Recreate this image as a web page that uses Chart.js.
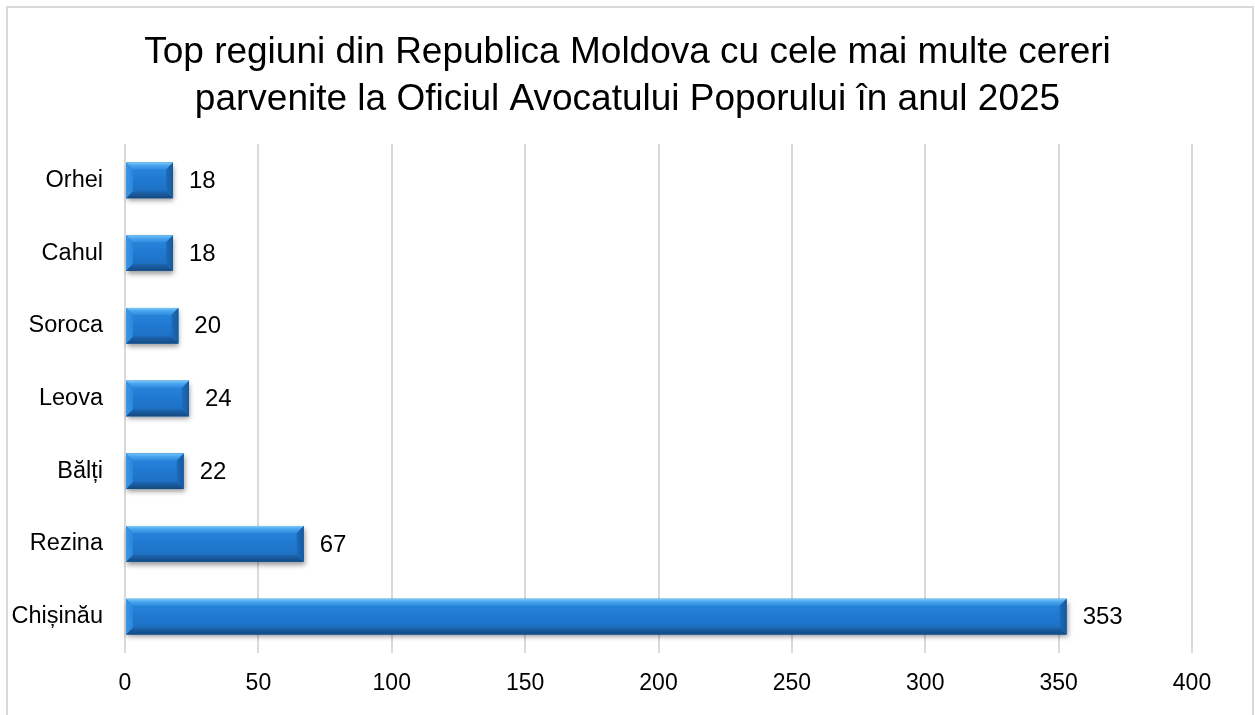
<!DOCTYPE html>
<html>
<head>
<meta charset="utf-8">
<script src="https://cdn.jsdelivr.net/npm/chart.js@4/dist/chart.umd.min.js"></script>
<style>
html,body{margin:0;padding:0;background:#fff;overflow:hidden;}
#wrap{position:relative;width:1255px;height:715px;}
#frame{position:absolute;left:6px;top:6px;width:1248px;height:760px;border:2px solid #d9d9d9;box-sizing:border-box;pointer-events:none;}
canvas{position:absolute;left:0;top:0;}
</style>
</head>
<body>
<div id="wrap">
<canvas id="c" width="1255" height="715"></canvas>
<div id="frame"></div>
</div>
<script>
const titleLines = ["Top regiuni din Republica Moldova cu cele mai multe cereri", "parvenite la Oficiul Avocatului Poporului în anul 2025"];
const categories = ["Orhei", "Cahul", "Soroca", "Leova", "Bălți", "Rezina", "Chișinău"];
const values = [18, 18, 20, 24, 22, 67, 353];
const xTicks = [0, 50, 100, 150, 200, 250, 300, 350, 400];

const FONT = "'Liberation Sans', Arial, sans-serif";

const bevelBars = {
  id: 'bevelBars',
  afterDatasetsDraw(chart) {
    const ctx = chart.ctx;
    const meta = chart.getDatasetMeta(0);
    meta.data.forEach((bar, i) => {
      const left = Math.min(bar.base, bar.x);
      const right = Math.max(bar.base, bar.x);
      const top = bar.y - bar.height / 2;
      const bottom = bar.y + bar.height / 2;
      const w = right - left, h = bottom - top;
      const b = Math.min(7, w / 2, h / 2);
      ctx.save();
      ctx.shadowColor = 'rgba(0,0,0,0.4)';
      ctx.shadowBlur = 5;
      ctx.shadowOffsetX = 1;
      ctx.shadowOffsetY = 3;
      ctx.fillStyle = '#1f6fc0';
      ctx.fillRect(left, top, w, h);
      ctx.restore();
      ctx.save();
      const g = ctx.createLinearGradient(0, top, 0, bottom);
      g.addColorStop(0, '#2a88de');
      g.addColorStop(0.5, '#2079d0');
      g.addColorStop(1, '#1c6cbd');
      ctx.fillStyle = g;
      ctx.fillRect(left, top, w, h);
      const gt = ctx.createLinearGradient(0, top, 0, top + b);
      gt.addColorStop(0, '#7cc8fb');
      gt.addColorStop(0.4, '#4aa6ee');
      gt.addColorStop(1, '#2f8ce0');
      ctx.fillStyle = gt;
      ctx.beginPath();
      ctx.moveTo(left, top); ctx.lineTo(right, top); ctx.lineTo(right - b, top + b); ctx.lineTo(left + b, top + b); ctx.closePath();
      ctx.fill();
      const gb = ctx.createLinearGradient(0, bottom - b, 0, bottom);
      gb.addColorStop(0, '#1c66b2');
      gb.addColorStop(1, '#14497f');
      ctx.fillStyle = gb;
      ctx.beginPath();
      ctx.moveTo(left, bottom); ctx.lineTo(right, bottom); ctx.lineTo(right - b, bottom - b); ctx.lineTo(left + b, bottom - b); ctx.closePath();
      ctx.fill();
      const gl = ctx.createLinearGradient(left, 0, left + b, 0);
      gl.addColorStop(0, '#3b97e6');
      gl.addColorStop(1, '#2a86da');
      ctx.fillStyle = gl;
      ctx.beginPath();
      ctx.moveTo(left, top); ctx.lineTo(left + b, top + b); ctx.lineTo(left + b, bottom - b); ctx.lineTo(left, bottom); ctx.closePath();
      ctx.fill();
      const gr = ctx.createLinearGradient(right - b, 0, right, 0);
      gr.addColorStop(0, '#1d6cbc');
      gr.addColorStop(1, '#17599c');
      ctx.fillStyle = gr;
      ctx.beginPath();
      ctx.moveTo(right, top); ctx.lineTo(right - b, top + b); ctx.lineTo(right - b, bottom - b); ctx.lineTo(right, bottom); ctx.closePath();
      ctx.fill();
      ctx.restore();
      ctx.save();
      ctx.fillStyle = '#000';
      ctx.font = '24px ' + FONT;
      ctx.textAlign = 'left';
      ctx.textBaseline = 'middle';
      ctx.fillText(String(values[i]), right + 16, bar.y + 1);
      ctx.restore();
    });
  }
};

new Chart(document.getElementById('c'), {
  type: 'bar',
  data: {
    labels: categories,
    datasets: [{
      data: values,
      backgroundColor: 'rgba(0,0,0,0)',
      borderWidth: 0,
      barPercentage: 0.49,
      categoryPercentage: 1.0
    }]
  },
  options: {
    indexAxis: 'y',
    responsive: false,
    animation: false,
    events: [],
    layout: { padding: 0 },
    plugins: {
      legend: { display: false },
      tooltip: { enabled: false },
      title: {
        display: true,
        text: titleLines,
        color: '#000',
        font: { family: FONT, size: 37, weight: 'normal', lineHeight: 1.27 },
        padding: { top: 29, bottom: 21 }
      }
    },
    scales: {
      x: {
        min: 0, max: 400,
        afterBuildTicks(scale) { scale.ticks = xTicks.map(v => ({ value: v })); },
        afterFit(scale) { scale.height = 62; },
        grid: { color: '#d9d9d9', lineWidth: 2, drawTicks: false },
        border: { display: false },
        ticks: { color: '#000', padding: 17, font: { family: FONT, size: 23 } }
      },
      y: {
        afterFit(scale) { scale.width = 125; },
        grid: { display: false, drawTicks: false },
        border: { display: false },
        ticks: { color: '#000', padding: 22, font: { family: FONT, size: 23.5 } }
      },
      yr: {
        type: 'category',
        position: 'right',
        afterFit(scale) { scale.width = 63; },
        grid: { display: false, drawTicks: false },
        border: { display: false },
        ticks: { display: false }
      }
    }
  },
  plugins: [bevelBars]
});
</script>
</body>
</html>
